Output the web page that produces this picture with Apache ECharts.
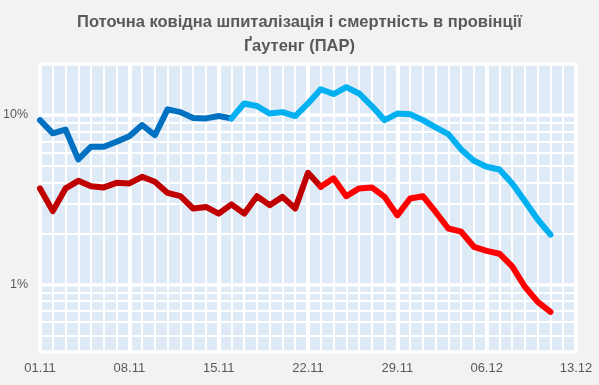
<!DOCTYPE html>
<html>
<head>
<meta charset="utf-8">
<script src="https://cdn.jsdelivr.net/npm/echarts@6/dist/echarts.min.js"></script>
<style>
html,body{margin:0;padding:0;background:#f2f2f2;}
#chart{width:599px;height:385px;}
</style>
</head>
<body>
<div id="chart"></div>
<script>
const titleLines = ["Поточна ковідна шпиталізація і смертність в провінції", "Ґаутенг (ПАР)"];
const categories = ["01.11","02.11","03.11","04.11","05.11","06.11","07.11","08.11","09.11","10.11",
  "11.11","12.11","13.11","14.11","15.11","16.11","17.11","18.11","19.11","20.11",
  "21.11","22.11","23.11","24.11","25.11","26.11","27.11","28.11","29.11","30.11",
  "01.12","02.12","03.12","04.12","05.12","06.12","07.12","08.12","09.12","10.12",
  "11.12","12.12","13.12"];
// hospitalisation (%), daily
const hospital = [9.33, 7.8, 8.2, 5.47, 6.5, 6.5, 6.95, 7.5, 8.73, 7.6,
  10.8, 10.4, 9.6, 9.55, 9.86, 9.55, 11.7, 11.3, 10.2, 10.4,
  9.86, 11.7, 14.2, 13.3, 14.6, 13.4, 11.3, 9.33, 10.2, 10.1,
  9.33, 8.45, 7.72, 6.27, 5.37, 4.95, 4.77, 3.95, 3.1, 2.42, 1.97];
// mortality (%), daily
const deaths = [3.69, 2.71, 3.69, 4.09, 3.8, 3.74, 3.98, 3.95, 4.32, 4.04,
  3.47, 3.32, 2.81, 2.87, 2.62, 2.97, 2.62, 3.32, 2.94, 3.29,
  2.81, 4.56, 3.77, 4.23, 3.32, 3.69, 3.74, 3.29, 2.56, 3.22,
  3.32, 2.68, 2.14, 2.05, 1.67, 1.58, 1.52, 1.28, 0.97, 0.79, 0.69];
const hospitalSplit = 15;
const deathsSplit = 22;
const yLabelTicks = [1, 10];
const yMinorGrid = [0.5, 0.6, 0.7, 0.8, 0.9, 2, 3, 4, 5, 6, 7, 8, 9];

function part(arr, from, to) {
  return categories.map((c, i) => (i >= from && i <= to && i < arr.length) ? arr[i] : null);
}

const chart = echarts.init(document.getElementById('chart'), null, {renderer: 'canvas'});
const lineCommon = {
  type: 'line', symbol: 'none', showSymbol: false, connectNulls: false,
  xAxisIndex: 0, yAxisIndex: 0, z: 3
};
const titleStyle = {fontFamily: 'Liberation Sans', fontSize: 16.5, fontWeight: 'bold', color: '#595959'};
chart.setOption({
  backgroundColor: '#f2f2f2',
  animation: false,
  title: [
    {text: titleLines[0], left: 'center', top: 14, padding: 0, textStyle: titleStyle},
    {text: titleLines[1], left: 'center', top: 38, padding: 0, textStyle: titleStyle}
  ],
  grid: {left: 38, right: 23, top: 64, bottom: 33, show: true, backgroundColor: '#deeaf6', borderWidth: 0},
  xAxis: [{
    type: 'category', data: categories, boundaryGap: false,
    axisLine: {show: false}, axisTick: {show: false},
    axisLabel: {interval: 6, color: '#595959', fontSize: 13, fontFamily: 'Liberation Sans', margin: 10, showMaxLabel: true},
    splitLine: {show: true, interval: 0, lineStyle: {color: '#ffffff', width: 2}}
  }, {
    type: 'category', data: categories, boundaryGap: false, position: 'bottom',
    axisLine: {show: false}, axisTick: {show: false}, axisLabel: {show: false},
    splitLine: {show: true, interval: 6, lineStyle: {color: '#ffffff', width: 4}}
  }],
  yAxis: {
    type: 'log', logBase: 10, min: 0.4, max: 20,
    axisLine: {show: false}, axisTick: {show: false},
    axisLabel: {
      color: '#595959', fontSize: 12.5, fontFamily: 'Liberation Sans', margin: 12,
      formatter: v => { const t = yLabelTicks.find(k => Math.abs(v - k) < 1e-6); return t ? t + '%' : ''; }
    },
    splitLine: {show: true, lineStyle: {color: '#ffffff', width: 3.5}}
  },
  series: [
    Object.assign({}, lineCommon, {
      name: 'grid', data: [], z: 1,
      markLine: {
        silent: true, symbol: 'none', z: 1, animation: false,
        label: {show: false},
        lineStyle: {color: '#ffffff', width: 2, type: 'solid'},
        data: yMinorGrid.map(v => ({yAxis: v}))
      }
    }),
    Object.assign({}, lineCommon, {
      name: 'hosp1', data: part(hospital, 0, hospitalSplit),
      lineStyle: {color: '#0070c0', width: 6, cap: 'round', join: 'round'}
    }),
    Object.assign({}, lineCommon, {
      name: 'hosp2', data: part(hospital, hospitalSplit, 100),
      lineStyle: {color: '#00b0f0', width: 6, cap: 'round', join: 'round'}
    }),
    Object.assign({}, lineCommon, {
      name: 'death1', data: part(deaths, 0, deathsSplit),
      lineStyle: {color: '#c00000', width: 6, cap: 'round', join: 'round'}
    }),
    Object.assign({}, lineCommon, {
      name: 'death2', data: part(deaths, deathsSplit, 100), z: 4,
      lineStyle: {color: '#ff0000', width: 6, cap: 'round', join: 'round'}
    })
  ]
});
</script>
</body>
</html>
